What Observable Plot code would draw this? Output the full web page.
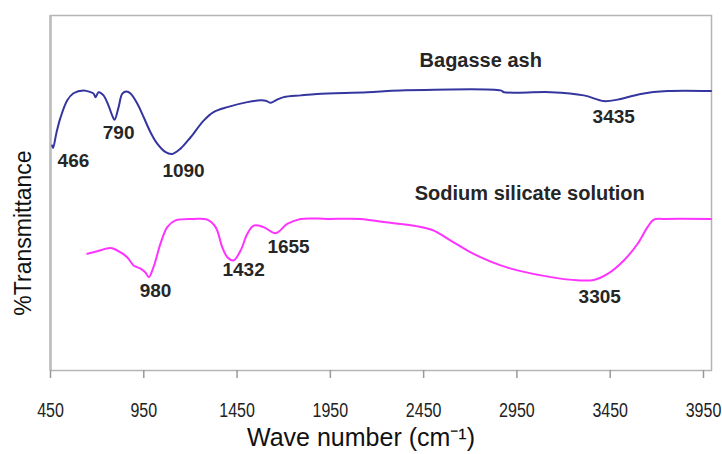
<!DOCTYPE html>
<html>
<head>
<meta charset="utf-8">
<script src="https://cdn.jsdelivr.net/npm/d3@7"></script>
<script src="https://cdn.jsdelivr.net/npm/@observablehq/plot@0.6"></script>
<style>
  html, body { margin: 0; padding: 0; background: #fff; }
  #chart svg { display: block; }
</style>
</head>
<body>
<div id="chart"></div>
<script>
// Bagasse ash spectrum (wavenumber cm-1, relative transmittance)
const ashWn = [459, 464, 482, 504, 540, 573, 627, 665, 681, 691, 708, 734, 761, 781, 793, 815, 835, 858, 879, 915, 949, 986, 1022, 1067, 1103, 1147, 1201, 1271, 1324, 1398, 1505, 1576, 1604, 1631, 1657, 1700, 1791, 1880, 2148, 2327, 2863, 2880, 3132, 3309, 3416, 3489, 3614, 3757, 3990];
const ashT  = [63.4, 62.7, 67, 71.3, 76.1, 78.1, 78.9, 78.4, 78, 77, 78.4, 77.5, 74.6, 71.8, 70.6, 74.2, 78, 78.6, 78, 75.2, 71.4, 67.1, 63.9, 61.5, 61, 62.5, 65.7, 70.4, 72.8, 74.2, 75.6, 76.1, 76, 75.4, 76.1, 77, 77.5, 77.9, 78.4, 78.9, 78.9, 78.4, 78.4, 77.5, 75.9, 76.3, 77.9, 78.7, 78.7];

// Sodium silicate solution spectrum
const silWn = [647, 700, 772, 808, 861, 895, 933, 959, 977, 1002, 1040, 1076, 1120, 1217, 1290, 1335, 1371, 1398, 1431, 1469, 1505, 1539, 1592, 1657, 1719, 1791, 1934, 2113, 2236, 2417, 2504, 2595, 2685, 2772, 2863, 2953, 3132, 3275, 3362, 3436, 3523, 3597, 3650, 3684, 3738, 3990];
const silT  = [32.9, 33.6, 34.5, 33.8, 31.9, 29.6, 28.7, 27.6, 26.3, 29.1, 35.8, 40.4, 42.3, 42.7, 42.5, 40.4, 34.7, 31.9, 31, 33.8, 38.5, 40.8, 40.4, 38.7, 41.3, 42.7, 42.7, 42.7, 41.8, 40.6, 39.4, 36.6, 33.8, 31.5, 29.6, 28.2, 26.3, 25.4, 25.5, 27.2, 31, 35.7, 40.4, 42.5, 42.7, 42.7];

// Annotations
const peakLabels = ["466", "790", "1090", "3435", "980", "1432", "1655", "3305"];
const peakWn     = [573, 815, 1163, 3469, 1013, 1485, 1726, 3394];
const peakT      = [58.9, 67, 56.3, 71.5, 22.3, 28.2, 34.9, 20.6];

const seriesNames = ["Bagasse ash", "Sodium silicate solution"];
const seriesWn    = [2756, 3019];
const seriesT     = [87.3, 49.9];

const xTicks = [450, 950, 1450, 1950, 2450, 2950, 3450, 3950];
const xDomain = [450, 3993];
const yDomain = [0, 100];

const ash = ashWn.map((w, i) => ({wn: w, t: ashT[i]}));
const sil = silWn.map((w, i) => ({wn: w, t: silT[i]}));
const peaks = peakLabels.map((l, i) => ({label: l, wn: peakWn[i], t: peakT[i]}));
const names = seriesNames.map((l, i) => ({label: l, wn: seriesWn[i], t: seriesT[i]}));

const font = "'Liberation Sans', Arial, sans-serif";

const chart = Plot.plot({
  width: 722,
  height: 454,
  marginLeft: 50,
  marginRight: 11,
  marginTop: 15,
  marginBottom: 84,
  style: {fontFamily: font, background: "#fff", color: "#222"},
  x: {domain: xDomain},
  y: {domain: yDomain, axis: null},
  marks: [
    Plot.frame({stroke: "#b5b5b5", strokeWidth: 1.5}),
    Plot.axisX({
      ticks: xTicks,
      tickSize: 8,
      tickPadding: 24,
      tickFormat: d3.format("d"),
      label: null,
      stroke: "#999",
      strokeWidth: 1.5
    }),
    Plot.ruleX([xDomain[0]], {stroke: "#bdbdbd", strokeWidth: 2.5}),
    Plot.line(ash, {x: "wn", y: "t", stroke: "#35359f", strokeWidth: 2, curve: "catmull-rom"}),
    Plot.line(sil, {x: "wn", y: "t", stroke: "#ff33ff", strokeWidth: 2, curve: "catmull-rom"}),
    Plot.text(peaks, {x: "wn", y: "t", text: "label", fontSize: 19, fontWeight: "bold", fill: "#262626"}),
    Plot.text(names, {x: "wn", y: "t", text: "label", fontSize: 20, fontWeight: "bold", fill: "#262626"}),
    Plot.text(["Wave number (cm⁻¹)"], {frameAnchor: "bottom", dx: -20, dy: 75, fontSize: 25, fill: "#111"}),
    Plot.text(["%Transmittance"], {frameAnchor: "left", textAnchor: "middle", dx: -27, dy: 40, rotate: -90, fontSize: 23, fill: "#111"})
  ]
});

const svg = d3.select(chart);
svg.selectAll('g[aria-label="x-axis tick label"]')
  .attr("font-size", 20)
  .attr("fill", "#222");
svg.selectAll('g[aria-label="x-axis tick label"] text')
  .attr("transform", function() {
    const t = this.getAttribute("transform") || "";
    return t + " scale(0.8,1)";
  });

document.getElementById("chart").appendChild(chart);
</script>
</body>
</html>
